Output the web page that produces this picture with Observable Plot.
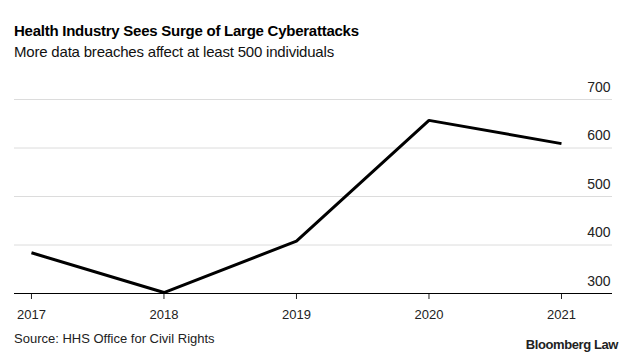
<!DOCTYPE html>
<html>
<head>
<meta charset="utf-8">
<script src="https://cdn.jsdelivr.net/npm/d3@7"></script>
<script src="https://cdn.jsdelivr.net/npm/@observablehq/plot@0.6"></script>
<style>
  html, body { margin: 0; padding: 0; background: #fff; }
  body { width: 633px; height: 359px; position: relative; overflow: hidden; font-family: "Liberation Sans", Arial, sans-serif; }
  #title { position: absolute; left: 14px; top: 22px; font-size: 15px; line-height: 17px; font-weight: bold; color: #000; letter-spacing: -0.25px; white-space: nowrap; }
  #subtitle { position: absolute; left: 14px; top: 43px; font-size: 15px; line-height: 17px; color: #111; letter-spacing: -0.2px; white-space: nowrap; }
  #chart { position: absolute; left: 0; top: 70px; }
  #source { position: absolute; left: 14px; top: 331px; font-size: 13px; color: #222; white-space: nowrap; }
  #brand { position: absolute; right: 15px; top: 337px; font-size: 13px; font-weight: bold; color: #222; letter-spacing: -0.4px; white-space: nowrap; }
</style>
</head>
<body>
<div id="title">Health Industry Sees Surge of Large Cyberattacks</div>
<div id="subtitle">More data breaches affect at least 500 individuals</div>
<div id="chart"></div>
<div id="source">Source: HHS Office for Civil Rights</div>
<div id="brand">Bloomberg Law</div>
<script>
const years = [2017, 2018, 2019, 2020, 2021];
const breaches = [384, 302, 408, 657, 609];
const yTicks = [300, 400, 500, 600, 700];

const data = years.map((y, i) => ({year: y, value: breaches[i]}));
const xDomain = [2016.872, 2021.385];

const chart = Plot.plot({
  width: 633,
  height: 260,
  marginTop: 29,
  marginBottom: 37,
  marginLeft: 14,
  marginRight: 21,
  style: {fontFamily: "Liberation Sans, Arial, sans-serif", fontSize: "13px", color: "#222", background: "#fff"},
  x: {domain: xDomain, ticks: years, tickFormat: d => String(d), tickSize: 6, tickPadding: 10, label: null},
  y: {domain: [300, 700], axis: null},
  marks: [
    Plot.ruleY(yTicks.filter(d => d > 300), {stroke: "#dcdcdc", strokeWidth: 1}),
    Plot.ruleY([300], {stroke: "#000", strokeWidth: 1}),
    Plot.text(yTicks, {x: xDomain[1], y: d => d, text: d => String(d), textAnchor: "end", dx: -2, dy: -12, fontSize: 14, fill: "#222"}),
    Plot.line(data, {x: "year", y: "value", stroke: "#000", strokeWidth: 3, strokeLinejoin: "miter", strokeLinecap: "butt"})
  ]
});
document.getElementById("chart").appendChild(chart);
</script>
</body>
</html>
